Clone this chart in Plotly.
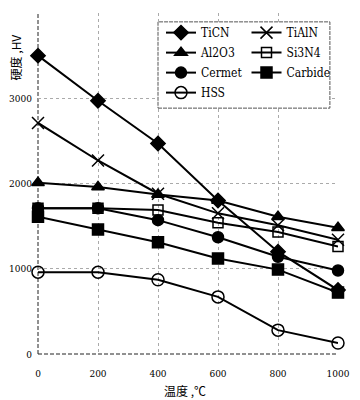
import plotly.graph_objects as go

temps = [0, 200, 400, 600, 800, 1000]
ticn = [3500, 2970, 2470, 1800, 1200, 750]
tialn = [2710, 2270, 1880, 1650, 1510, 1340]
al2o3 = [2010, 1960, 1870, 1800, 1610, 1480]
si3n4 = [1710, 1710, 1690, 1540, 1430, 1260]
cermet = [1710, 1710, 1570, 1370, 1140, 980]
carbide = [1610, 1460, 1310, 1120, 990, 720]
hss = [960, 960, 870, 670, 280, 130]

series = [
    ("TiCN", ticn, "diamond", 11, "legend"),
    ("TiAlN", tialn, "x-thin", 12, "legend2"),
    ("Al2O3", al2o3, "triangle-up", 11, "legend"),
    ("Si3N4", si3n4, "square-open", 10, "legend2"),
    ("Cermet", cermet, "circle", 11, "legend"),
    ("Carbide", carbide, "square", 11, "legend2"),
    ("HSS", hss, "circle-open", 12, "legend"),
]

fig = go.Figure()
for name, vals, sym, sz, lg in series:
    fig.add_trace(go.Scatter(
        x=temps, y=vals, name=name, mode="lines+markers",
        line=dict(color="black", width=2),
        marker=dict(symbol=sym, size=sz, color="black",
                    line=dict(color="black", width=1.5)),
        cliponaxis=False, legend=lg, legendgroup=name,
    ))

serif = "DejaVu Serif Condensed, DejaVu Serif"
cjk = "Noto Sans CJK SC"
leg_common = dict(
    yanchor="top", xanchor="left", orientation="v",
    bgcolor="rgba(0,0,0,0)", borderwidth=0,
    font=dict(family=serif, size=12, color="black"),
    tracegroupgap=1, itemwidth=30,
)
fig.update_layout(
    width=352, height=392,
    margin=dict(l=30, r=22, t=5, b=46),
    paper_bgcolor="white", plot_bgcolor="white",
    font=dict(family=serif, size=10, color="black"),
    showlegend=True,
    legend=dict(x=0.41, y=0.985, **leg_common),
    legend2=dict(x=0.695, y=0.985, **leg_common),
    xaxis=dict(
        range=[0, 1000], tickvals=temps, ticktext=[str(t) for t in temps],
        showgrid=True, gridcolor="#aaa", griddash="3px,3px", gridwidth=1,
        zeroline=False, showline=False,
        ticks="outside", ticklen=10, tickcolor="rgba(0,0,0,0)", automargin=False,
        tickfont=dict(family=serif, size=10),
    ),
    yaxis=dict(
        range=[0, 4000], tickvals=[0, 1000, 2000, 3000, 4000],
        showgrid=True, gridcolor="#aaa", griddash="3px,3px", gridwidth=1,
        zeroline=False, showline=False,
        ticks="outside", ticklen=3, tickcolor="rgba(0,0,0,0)", automargin=False,
        tickfont=dict(family=serif, size=10),
    ),
    shapes=[
        dict(type="line", xref="paper", yref="paper", x0=0, x1=0, y0=0, y1=1,
             line=dict(color="#222", width=1, dash="4px,2px"), layer="below"),
        dict(type="line", xref="paper", yref="paper", x0=0, x1=1, y0=0, y1=0,
             line=dict(color="#222", width=1, dash="4px,2px"), layer="below"),
        dict(type="rect", xref="paper", yref="paper", x0=0.4, x1=0.973, y0=0.721, y1=0.974,
             fillcolor="white", line=dict(color="#555", width=1, dash="4px,1px"),
             layer="above"),
    ],
    annotations=[
        dict(text="硬度 ,HV", xref="paper", yref="paper", x=-0.072, y=0.871,
             showarrow=False, textangle=-90, xanchor="center", yanchor="middle",
             font=dict(family=cjk, size=12)),
        dict(text="温度 ,℃", xref="paper", yref="paper", x=0.49, y=-0.108,
             showarrow=False, xanchor="center", yanchor="middle",
             font=dict(family=cjk, size=12)),
    ],
)

fig.write_html("out.html")
